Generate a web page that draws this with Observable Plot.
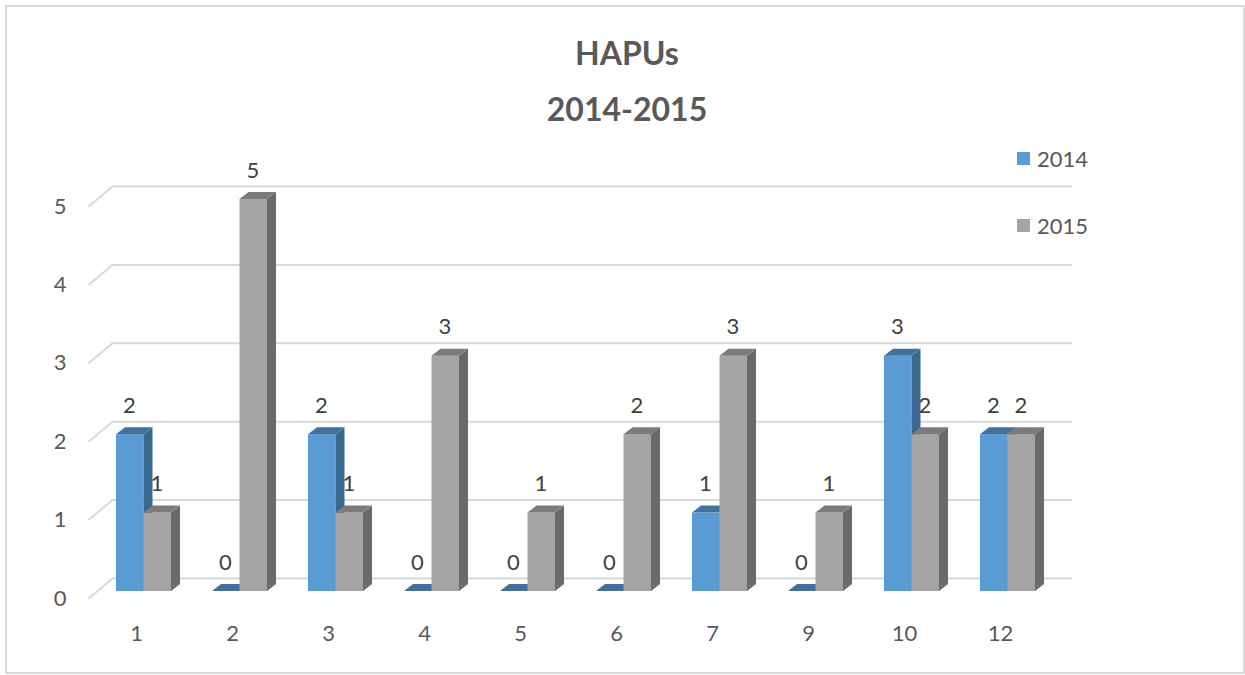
<!DOCTYPE html>
<html>
<head>
<meta charset="utf-8">
<script src="https://cdn.jsdelivr.net/npm/d3@7"></script>
<script src="https://cdn.jsdelivr.net/npm/@observablehq/plot@0.6"></script>
<style>
  html, body { margin: 0; padding: 0; background: #fff; }
  #wrap { position: relative; width: 1245px; height: 675px; overflow: hidden; font-family: Lato, "Open Sans", sans-serif; }
  #frame { position: absolute; left: 5px; top: 5px; width: 1240px; height: 669px; box-sizing: border-box; border: 2px solid #d9d9d9; pointer-events: none; }
  #chart { position: absolute; left: 0; top: 0; }
  #title { position: absolute; left: 427px; top: 25px; width: 400px; text-align: center; font-weight: bold; font-size: 32px; line-height: 56px; color: #595959; }
  .lg-sw { position: absolute; left: 1017px; width: 13px; height: 13px; }
  .lg-tx { position: absolute; left: 1037px; font-size: 22px; line-height: 22px; color: #595959; }
</style>
</head>
<body>
<div id="wrap">
  <div id="chart"></div>
  <div id="title">HAPUs<br>2014-2015</div>
  <div id="legend"></div>
  <div id="frame"></div>
</div>
<script>
// ---- data ----
const categories = ["1", "2", "3", "4", "5", "6", "7", "9", "10", "12"];
const values2014 = [2, 0, 2, 0, 0, 0, 1, 0, 3, 2];
const values2015 = [1, 5, 1, 3, 1, 2, 3, 1, 2, 2];
const seriesNames = ["2014", "2015"];
const yTicks = [0, 1, 2, 3, 4, 5];

// ---- styling / geometry (pixels) ----
const frontColors = ["#5b9bd5", "#a5a5a5"];
const sideColors = ["#3b6893", "#6a6a6a"];
const topColors = ["#42719d", "#7b7b7b"];
const BAND = 96, UNIT = 78.4;
const BAR_W = 27.5, PAIR_SHIFT = 7.5, DEPTH_X = 9, DEPTH_Y = 7, FLOOR_DY = -7;
const WALL_DX = 24, WALL_DY = -20;
const DX = DEPTH_X / BAND, DY = DEPTH_Y / UNIT;

const seriesValues = [values2014, values2015];
const bars = seriesValues.map((vals, s) => vals.map((v, i) => {
  const x1 = i + 0.5 + (PAIR_SHIFT + (s - 1) * BAR_W) / BAND;
  return { id: s + "-" + i, s, cat: categories[i], year: seriesNames[s], value: v, x1, x2: x1 + BAR_W / BAND };
}));
const sides = bars.map(list => list.flatMap(b => [
  { id: b.id, x: b.x2, y1: 0, y2: b.value },
  { id: b.id, x: b.x2 + DX, y1: DY, y2: b.value + DY }
]));
const tops = bars.map(list => list.flatMap(b => [
  { id: b.id, y: b.value, x1: b.x1, x2: b.x2 },
  { id: b.id, y: b.value + DY, x1: b.x1 + DX, x2: b.x2 + DX }
]));

const textFill = "#595959";
const FS = 22;

const marks = [
  // back-wall gridlines
  Plot.ruleY(yTicks, { dx: WALL_DX, dy: WALL_DY, stroke: "#d9d9d9", strokeWidth: 2 }),
  // side-wall slants
  Plot.link(yTicks, { x1: () => 0, x2: () => WALL_DX / BAND, y1: d => d, y2: d => d - WALL_DY / UNIT, stroke: "#d9d9d9", strokeWidth: 2 }),
  // y labels
  Plot.text(yTicks, { y: d => d, frameAnchor: "left", text: d => String(d), textAnchor: "end", dx: -22, fill: textFill, fontSize: FS, fontFamily: "Lato" }),
  // x labels
  Plot.text(categories, { x: (d, i) => i + 0.5, frameAnchor: "bottom", text: d => d, dy: 42, fill: textFill, fontSize: FS, fontFamily: "Lato" })
];
for (let s = 0; s < 2; s++) {
  marks.push(
    Plot.rect(bars[s], { x1: "x1", x2: "x2", y1: () => 0, y2: "value", dy: FLOOR_DY, fill: frontColors[s] }),
    Plot.area(sides[s], { x1: "x", y1: "y1", y2: "y2", z: "id", dy: FLOOR_DY, fill: sideColors[s] }),
    Plot.areaX(tops[s], { y: "y", x1: "x1", x2: "x2", z: "id", dy: FLOOR_DY, fill: topColors[s] })
  );
}
for (let s = 0; s < 2; s++) {
  marks.push(
    Plot.text(bars[s], { x: d => (d.x1 + d.x2) / 2, y: "value", text: d => String(d.value), dy: FLOOR_DY - 29, dx: -1, fill: "#404040", fontSize: FS, fontFamily: "Lato" })
  );
}

const chart = Plot.plot({
  width: 1245,
  height: 675,
  marginLeft: 88,
  marginRight: 197,
  marginTop: 206,
  marginBottom: 77,
  x: { type: "linear", domain: [0, 10], axis: null },
  y: { type: "linear", domain: [0, 5], axis: null },
  style: { background: "transparent", fontFamily: "Lato" },
  marks
});
document.getElementById("chart").appendChild(chart);

// legend
const legend = document.getElementById("legend");
const legendTop = [152, 219];
const legendTextTop = [148, 215];
seriesNames.forEach((name, s) => {
  const sw = document.createElement("div");
  sw.className = "lg-sw";
  sw.style.top = legendTop[s] + "px";
  sw.style.background = frontColors[s];
  legend.appendChild(sw);
  const tx = document.createElement("div");
  tx.className = "lg-tx";
  tx.style.top = legendTextTop[s] + "px";
  tx.textContent = name;
  legend.appendChild(tx);
});
</script>
</body>
</html>
